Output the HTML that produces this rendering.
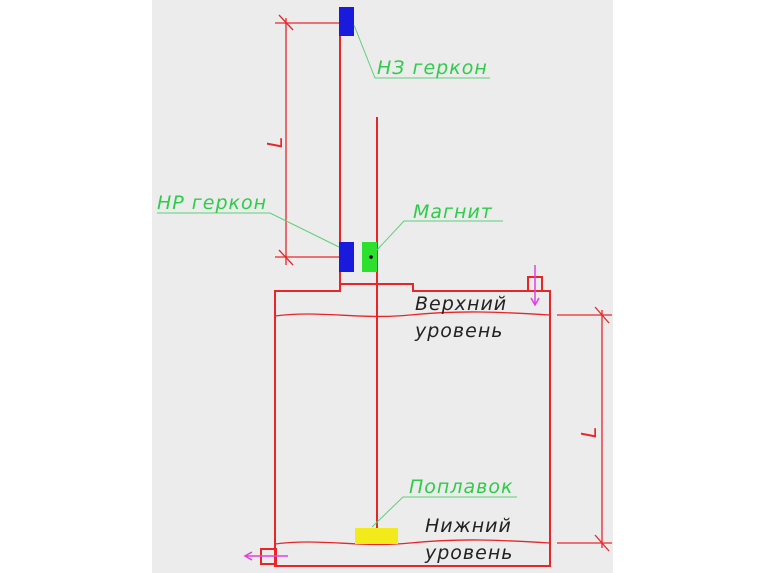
<!DOCTYPE html>
<html><head><meta charset="utf-8"><style>
html,body{margin:0;padding:0;background:#fff;}
svg{display:block}
text{font-family:"DejaVu Sans","Liberation Sans",sans-serif;font-style:italic;letter-spacing:1px;}
</style></head><body>
<svg width="764" height="573" viewBox="0 0 764 573" xmlns="http://www.w3.org/2000/svg">
<rect x="152" y="0" width="461" height="573" fill="#ececec"/>
<g stroke="#e8262a" stroke-width="2" fill="none">
<line x1="340" y1="20" x2="340" y2="284"/>
<line x1="377" y1="117" x2="377" y2="528"/>
<path d="M275,291 L340,291 L340,284 L344,284 L413,284 L413,291 L550,291 L550,566 L275,566 Z"/>
<rect x="528" y="277" width="14" height="14"/>
<rect x="261" y="549" width="15" height="15"/>
</g>
<g stroke="#e8262a" stroke-width="1.3" fill="none">
<line x1="286" y1="18" x2="286" y2="265"/>
<line x1="275" y1="23" x2="340" y2="23"/>
<line x1="275" y1="257" x2="340" y2="257"/>
<line x1="279" y1="15" x2="293" y2="30"/>
<line x1="279" y1="250" x2="293" y2="265"/>
<line x1="602" y1="310" x2="602" y2="548"/>
<line x1="557" y1="315" x2="612" y2="315"/>
<line x1="557" y1="543" x2="612" y2="543"/>
<line x1="595" y1="307" x2="609" y2="323"/>
<line x1="595" y1="535" x2="609" y2="551"/>
<path d="M275,316 C320,310 360,320 410,315 S500,312 550,315"/>
<path d="M275,544 C320,538 360,548 410,543 S500,540 550,543"/>
</g>
<text x="0" y="0" font-size="20" fill="#e8262a" transform="translate(282,148) rotate(-90)">L</text>
<text x="0" y="0" font-size="20" fill="#e8262a" transform="translate(596,438) rotate(-90)">L</text>
<rect x="339" y="7" width="15" height="29" fill="#1a1adc"/>
<rect x="339" y="242" width="15" height="30" fill="#1a1adc"/>
<rect x="362" y="242" width="15" height="30" fill="#2ee02e"/>
<circle cx="371" cy="257" r="1.8" fill="#000"/>
<rect x="355" y="528" width="43" height="16" fill="#f2ea1a"/>
<g stroke="#e040e0" stroke-width="1.5" fill="none">
<line x1="535" y1="265" x2="535" y2="304"/><path d="M531,298 L535,305 L539,298"/>
<line x1="288" y1="556" x2="246" y2="556"/><path d="M252,552 L245,556 L252,560"/>
</g>
<g stroke="#5ccf7a" stroke-width="1" fill="none">
<path d="M354,25 L375,78 L490,78"/>
<path d="M157,213 L270,213 L339,247"/>
<path d="M377,250 L404,221 L503,221"/>
<path d="M372,527 L403,497 L517,497"/>
</g>
<g fill="#2ecc4a" font-size="19" font-weight="500">
<text x="377" y="74">НЗ геркон</text>
<text x="157" y="209">НР геркон</text>
<text x="413" y="218">Магнит</text>
<text x="409" y="493">Поплавок</text>
</g>
<g fill="#222" font-size="19" font-weight="500">
<text x="415" y="310">Верхний</text>
<text x="415" y="337">уровень</text>
<text x="425" y="532">Нижний</text>
<text x="425" y="559">уровень</text>
</g>
</svg>
</body></html>
